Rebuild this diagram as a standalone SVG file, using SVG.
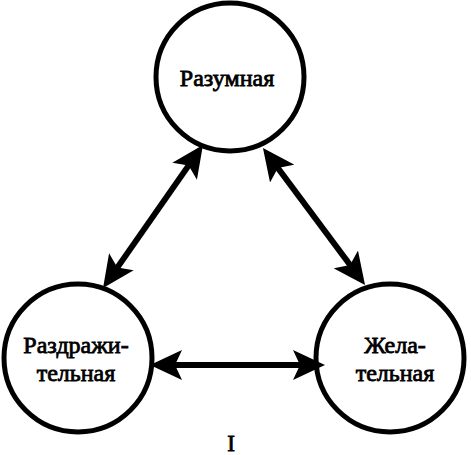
<svg xmlns="http://www.w3.org/2000/svg" width="471" height="455" viewBox="0 0 471 455">
<style>
.node circle{fill:#fff;stroke:#000;stroke-width:5}
.lbl{font-family:"Liberation Serif","Times New Roman",serif;font-weight:normal;font-size:24px;fill:#000;stroke:#000;stroke-width:0.8;text-anchor:middle}
.conn line{stroke:#000;stroke-width:6}
</style>
<defs>
<marker id="ah" viewBox="0 -16 33 32" refX="12" refY="0" markerWidth="33" markerHeight="32" markerUnits="userSpaceOnUse" orient="auto-start-reverse">
<path d="M32,0 L0,-15 L7,0 L0,15 Z" fill="#000"/>
</marker>
</defs>
<g id="razumnaya" class="node">
<circle cx="230" cy="77" r="74"/>
<text class="lbl" x="227" y="86">Разумная</text>
</g>
<g id="razdrazhitelnaya" class="node">
<circle cx="78" cy="358" r="74"/>
<text class="lbl" x="76" y="353">Раздражи-</text>
<text class="lbl" x="76" y="381">тельная</text>
</g>
<g id="zhelatelnaya" class="node">
<circle cx="390" cy="358" r="74"/>
<text class="lbl" x="395" y="353">Жела-</text>
<text class="lbl" x="395" y="381">тельная</text>
</g>
<g id="connectors" class="conn">
<line x1="191.5" y1="161.4" x2="114.5" y2="271.6" marker-start="url(#ah)" marker-end="url(#ah)"/>
<line x1="274.9" y1="164" x2="353.1" y2="269" marker-start="url(#ah)" marker-end="url(#ah)"/>
<line x1="170" y1="365" x2="305" y2="365" marker-start="url(#ah)" marker-end="url(#ah)"/>
</g>
<text class="lbl" x="231" y="451" style="font-size:23px">I</text>
</svg>
